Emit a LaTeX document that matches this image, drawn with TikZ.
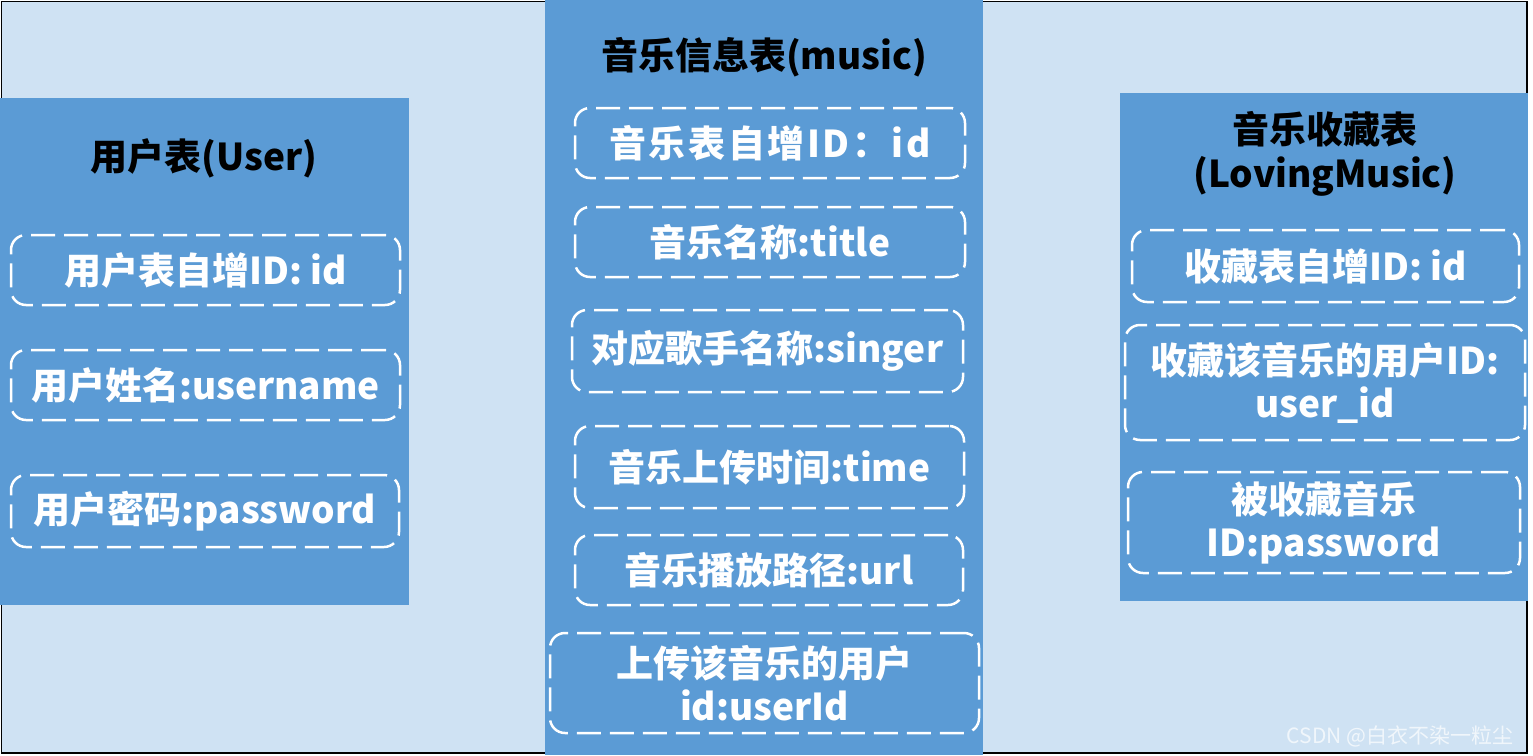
\documentclass[tikz,border=0pt]{standalone}
\usepackage{fontspec}
\setmainfont{Noto Sans CJK SC}
\usetikzlibrary{positioning}
\definecolor{PaleBlue}{HTML}{CFE2F3}
\definecolor{TableBlue}{HTML}{5B9BD5}

\tikzset{
    panel/.style={fill=TableBlue, draw=none},
    heading/.style={text=black, align=center, font=\fontsize{37}{44}\selectfont\bfseries},
    field/.style={draw=white, line width=2.5pt, dash pattern=on 24pt off 9pt,
        rounded corners=15pt, text=white, align=center, inner sep=0pt,
        font=\fontsize{37}{43}\selectfont\bfseries},
}

\begin{document}
\begin{tikzpicture}[x=1pt, y=-1pt]

    \useasboundingbox (0,0) rectangle (1533,755);

    % background and frame
    \fill[white] (0,0) rectangle (1533,755);
    \draw[fill=PaleBlue, line width=1.5pt] (1.5,1.5) rectangle (1527,753);

    % the three tables
    \fill[panel] (0,98) rectangle (409,605);
    \fill[panel] (545,0) rectangle (983,755);
    \fill[panel] (1120,93) rectangle (1528,601);

    % User
    \node[heading] (userTitle) at (204,158) {用户表(User)};
    \node[field, minimum width=389pt, minimum height=70pt] (userId) at (205.5,270) {用户表自增ID: id};
    \node[field, minimum width=389pt, minimum height=70pt] (userName) at (205.5,385) {用户姓名:username};
    \node[field, minimum width=388pt, minimum height=72pt] (userPwd) at (205,511) {用户密码:password};

    % music
    \node[heading] (musicTitle) at (764,57) {音乐信息表(music)};
    \node[field, minimum width=390pt, minimum height=70pt] (musicId) at (770,143)
        {\addfontfeature{LetterSpace=7}音乐表自增ID：id};
    \node[field, minimum width=390pt, minimum height=70pt] (musicTitleField) at (770,242) {音乐名称:title};
    \node[field, minimum width=391pt, minimum height=82pt] (musicSinger) at (767.5,351) {对应歌手名称:singer};
    \node[field, minimum width=389pt, minimum height=82pt] (musicTime) at (769.5,467) {音乐上传时间:time};
    \node[field, minimum width=388pt, minimum height=70pt] (musicUrl) at (769,570) {音乐播放路径:url};
    \node[field, minimum width=429pt, minimum height=100pt] (musicUser) at (764.5,683) {上传该音乐的用户\\id:userId};

    % LovingMusic
    \node[heading] (loveTitle) at (1325,154) {音乐收藏表\\(LovingMusic)};
    \node[field, minimum width=387pt, minimum height=72pt] (loveId) at (1325.5,266) {收藏表自增ID: id};
    \node[field, minimum width=400pt, minimum height=115pt] (loveUser) at (1325,382.5) {收藏该音乐的用户ID:\\user\_id};
    \node[field, minimum width=392pt, minimum height=101pt] (loveMusic) at (1324,522.5) {被收藏音乐\\ID:password};

    % watermark
    \node[anchor=east, text=white, opacity=0.7, font=\fontsize{21}{24}\selectfont] (mark) at (1517,736) {CSDN @白衣不染一粒尘};
\end{tikzpicture}
\end{document}
